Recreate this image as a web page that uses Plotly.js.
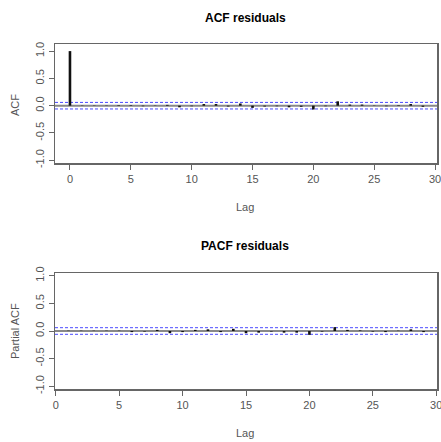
<!DOCTYPE html>
<html><head><meta charset="utf-8">
<script src="https://cdn.plot.ly/plotly-3.0.1.min.js"></script>
<style>html,body{margin:0;padding:0;background:#fff}#c{width:441px;height:442px}</style>
</head><body><div id="c"></div>
<script>
const acfLags = [0,1,2,3,4,5,6,7,8,9,10,11,12,13,14,15,16,17,18,19,20,21,22,23,24,25,26,27,28,29];
const acfValues = [1.0,0.005,0.005,0.005,0.01,0.01,-0.01,0.005,0.015,-0.03,-0.01,0.03,0.03,-0.015,0.04,-0.04,-0.015,-0.01,-0.03,-0.02,-0.07,-0.01,0.08,0.02,0.02,0.005,-0.01,0.01,0.03,-0.02];
const pacfLags = [1,2,3,4,5,6,7,8,9,10,11,12,13,14,15,16,17,18,19,20,21,22,23,24,25,26,27,28,29];
const pacfValues = [0.005,0.005,0.005,0.005,0.005,-0.02,-0.01,0.02,-0.04,-0.02,0.02,0.03,-0.02,0.04,-0.04,-0.03,-0.01,-0.03,-0.03,-0.07,-0.01,0.07,0.02,0.01,-0.01,-0.02,0.005,0.03,-0.02];
const confBound = [0.06, -0.06];
const xTicks = [0,5,10,15,20,25,30];
const yTicks = [-1.0,-0.5,0.0,0.5,1.0];

const W = 441, H = 442;
const px = v => v / W, py = v => 1 - v / H;

function stems(xs, ys){ const X=[],Y=[]; xs.forEach((x,i)=>{X.push(x,x,null);Y.push(0,ys[i],null);}); return {X,Y}; }
const a = stems(acfLags, acfValues), p = stems(pacfLags, pacfValues);

const tickFont = {family:'Liberation Sans, Arial, sans-serif', size:11, color:'#555'};
const traces = [
  {x:a.X, y:a.Y, type:'scatter', mode:'lines', line:{color:'#111', width:2.6}, xaxis:'x', yaxis:'y', hoverinfo:'skip'},
  {x:p.X, y:p.Y, type:'scatter', mode:'lines', line:{color:'#111', width:2.6}, xaxis:'x2', yaxis:'y2', hoverinfo:'skip'}
];

function xa(domain, range, anchor){ return {domain, range, anchor, tickvals:xTicks, ticktext:xTicks.map(String), ticklabeloverflow:'allow', showgrid:false, zeroline:false, showline:true, mirror:true, linecolor:'#666', linewidth:1.5, ticks:'outside', ticklen:5, tickcolor:'#666', tickfont:tickFont}; }
function ya(domain, range, anchor){ return {domain, range, anchor, tickvals:yTicks, ticktext:yTicks.map(v=>v.toFixed(1)), ticklabeloverflow:'allow', tickangle:-90, showgrid:false, zeroline:false, showline:true, mirror:true, linecolor:'#666', linewidth:1.5, ticks:'outside', ticklen:5, tickcolor:'#666', tickfont:tickFont}; }

const shapes = [];
[['x','y'],['x2','y2']].forEach(([xr,yr])=>{
  shapes.push({type:'line', layer:'below', xref:xr+' domain', x0:0, x1:1, yref:yr, y0:0, y1:0, line:{color:'#888', width:2}});
  confBound.forEach(c=>shapes.push({type:'line', layer:'below', xref:xr+' domain', x0:0, x1:1, yref:yr, y0:c, y1:c, line:{color:'#4a4aff', width:1, dash:'3px,2px'}}));
});

const titleFont = {family:'Liberation Sans, Arial, sans-serif', size:12, color:'#000'};
const labFont = {family:'Liberation Sans, Arial, sans-serif', size:11, color:'#555'};
const ann = (text,x,y,font,angle)=>({text, x:px(x), y:py(y), xref:'paper', yref:'paper', showarrow:false, font, textangle:angle||0, xanchor:'center', yanchor:'middle'});

const layout = {
  width:W, height:H, margin:{l:0,r:0,t:0,b:0}, showlegend:false,
  paper_bgcolor:'#fff', plot_bgcolor:'#fff',
  xaxis: xa([px(55),px(437)], [-1.23,30.16], 'y'),
  yaxis: ya([py(163),py(44)], [-1.05,1.13], 'x'),
  xaxis2: xa([px(55),px(437)], [-0.06,30.06], 'y2'),
  yaxis2: ya([py(389),py(273)], [-1.05,1.05], 'x2'),
  shapes,
  annotations:[
    ann('<b>ACF residuals</b>',245,18,titleFont),
    ann('ACF',15,105,labFont,-90),
    ann('Lag',245,207,labFont),
    ann('<b>PACF residuals</b>',245,246,titleFont),
    ann('Partial ACF',15,331,labFont,-90),
    ann('Lag',245,433,labFont)
  ]
};
Plotly.newPlot('c', traces, layout, {staticPlot:true, displayModeBar:false});
</script></body></html>
